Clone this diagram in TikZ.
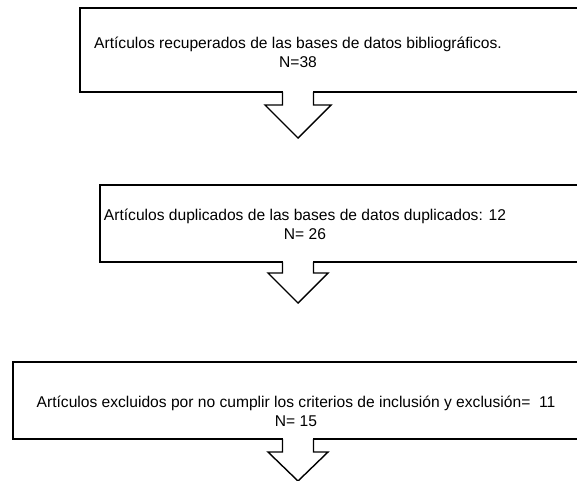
\documentclass[tikz,border=0pt]{standalone}
\usepackage{fontspec}
\setmainfont{Liberation Sans}
\usetikzlibrary{calc}

\tikzset{
  caja/.style={draw=black, line width=1.6pt},
  texto/.style={align=center, inner sep=0pt, font=\fontsize{15.6}{19}\selectfont},
  punta/.style={draw=black, line width=1.4pt, line join=miter},
}

% flecha de bloque bajo una caja: #1 punto de salida, #2 cuello, #3 punta, #4 media anchura
\newcommand{\flecha}[4]{%
  \fill[white] ($(#1)+(-15,-3)$) rectangle ($(#1)+(15,3)$);
  \draw[punta] ($(#1)+(-15.5,0)$) -- ($(#1)+(-15.5,#2)$) -- ($(#1)+(-#4,#2)$)
    -- ($(#1)+(0,#2+#3)$) -- ($(#1)+(#4,#2)$) -- ($(#1)+(15.5,#2)$) -- ($(#1)+(15.5,0)$);
}

\begin{document}
\begin{tikzpicture}[x=1pt, y=-1pt]
    \useasboundingbox (0,0) rectangle (577,480);
    \clip (0,0) rectangle (577,480);

    % cajas
    \draw[caja] (80,8) rectangle (620,92);
    \draw[caja] (100,185) rectangle (620,262);
    \draw[caja] (13,362) rectangle (620,439);

    \node[texto] (recup) at (298,52) {Artículos recuperados de las bases de datos bibliográficos.\\N=38};
    \node[texto] (dupl) at (305,224) {Artículos duplicados de las bases de datos duplicados: 12\\N= 26};
    \node[texto] (excl) at (296,411) {Artículos excluidos por no cumplir los criterios de inclusión y exclusión=\ \ 11\\N= 15};

    % flechas
    \coordinate (s1) at (298,92);
    \coordinate (s2) at (298,262);
    \coordinate (s3) at (298,439);
    \flecha{s1}{13}{33}{33}
    \flecha{s2}{11}{30}{30}
    \flecha{s3}{13}{29}{30}
\end{tikzpicture}
\end{document}
